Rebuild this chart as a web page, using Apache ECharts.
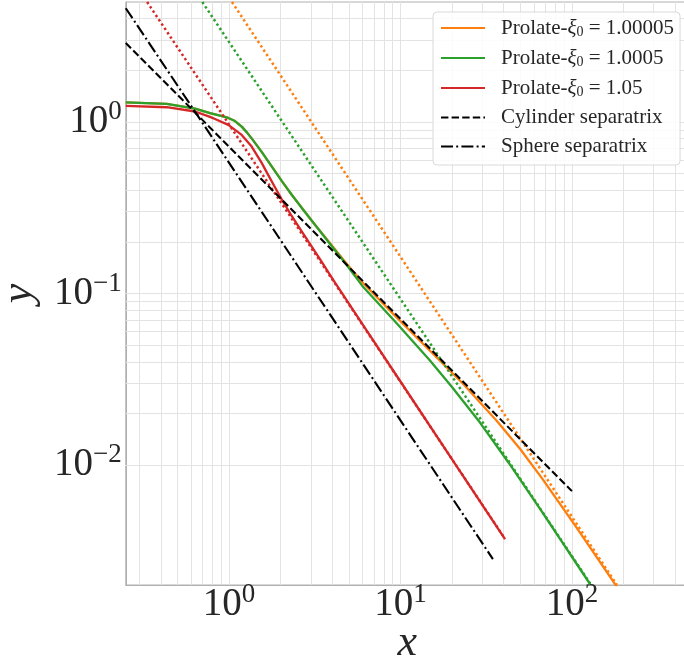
<!DOCTYPE html>
<html>
<head>
<meta charset="utf-8">
<script src="https://cdn.jsdelivr.net/npm/echarts@6/dist/echarts.min.js"></script>
<style>
  html, body { margin: 0; padding: 0; background: #ffffff; }
  #chart { width: 684px; height: 662px; }
</style>
</head>
<body>
<div id="chart"></div>
<script>
// ---- data (log-log plane) ----
const xiValues = ['1.00005', '1.0005', '1.05'];
const legendNames = [
  'Prolate-ξ0 = 1.00005',
  'Prolate-ξ0 = 1.0005',
  'Prolate-ξ0 = 1.05',
  'Cylinder separatrix',
  'Sphere separatrix'
];

const orangeX = [0.25, 0.433, 0.634, 0.775, 0.9, 0.991, 1.084, 1.186, 1.268, 1.356, 1.551, 1.774, 2.029, 2.321, 2.774, 3.173, 3.793, 4.857, 6.068, 9.502, 14.86, 23.24, 36.4, 49.76, 66.8, 104.5, 183];
const orangeY = [1.30, 1.275, 1.196, 1.124, 1.085, 1.055, 1.012, 0.939, 0.872, 0.802, 0.669, 0.551, 0.4534, 0.3765, 0.2987, 0.2515, 0.2025, 0.149, 0.1147, 0.0726, 0.0464, 0.0297, 0.01813, 0.01245, 0.00839, 0.00444, 0.00195];

const greenX = [0.25, 0.433, 0.634, 0.775, 0.9, 0.991, 1.084, 1.186, 1.268, 1.356, 1.551, 1.774, 2.029, 2.321, 2.774, 3.173, 3.793, 4.857, 6.068, 9.502, 14.86, 19.97, 29.08, 42.75, 66.8, 127.8];
const greenY = [1.30, 1.275, 1.196, 1.124, 1.085, 1.055, 1.012, 0.939, 0.872, 0.802, 0.669, 0.551, 0.4534, 0.3765, 0.2987, 0.2515, 0.2005, 0.1465, 0.1090, 0.0671, 0.0407, 0.02852, 0.01769, 0.01032, 0.00535, 0.00202];

const redX = [0.25, 0.433, 0.634, 0.775, 0.829, 0.991, 1.186, 1.356, 1.551, 1.695, 1.854, 2.029, 2.321, 2.654, 2.9, 3.4, 4.0, 6.0, 10, 20, 40.7];
const redY = [1.24, 1.218, 1.15, 1.07, 1.04, 0.961, 0.840, 0.718, 0.577, 0.490, 0.416, 0.354, 0.283, 0.2305, 0.2015, 0.158, 0.1225, 0.0663, 0.0307, 0.0108, 0.0037];

// large-x power-law asymptotes (dotted)
const orangeAsymX = [1.041, 8.12, 183];
const orangeAsymY = [5.0, 0.2244, 0.002];
const greenAsymX = [0.699, 5.555, 127.8];
const greenAsymY = [5.0, 0.2244, 0.00204];
const redAsymX = [0.333, 1, 40.7];
const redAsymY = [5.0, 0.968, 0.00372];

// separatrices
const cylinderX = [0.25, 0.648, 100];
const cylinderY = [2.88, 1.11, 0.00705];
const sphereX = [0.25, 0.648, 34.6];
const sphereY = [4.6, 1.11, 0.00283];

// axis ranges and grid-line positions (mantissas 1..9 per decade)
const xRange = [0.25, 480];
const yRange = [0.002, 5];
const mantissas = [1, 2, 3, 4, 5, 6, 7, 8, 9];
const xDecades = [-1, 0, 1, 2];
const yDecades = [-3, -2, -1, 0];

// ---- helpers ----
const pairs = (xs, ys) => xs.map((x, i) => [x, ys[i]]);
function gridValues(decades, range) {
  const out = [];
  decades.forEach(d => mantissas.forEach(m => {
    const v = +(m * Math.pow(10, d)).toPrecision(6);
    if (v > range[0] * 1.0001 && v < range[1] * 0.9999) out.push(v);
  }));
  return out;
}
function powerLabel(v) {
  const lg = Math.log10(v);
  const e = Math.round(lg);
  if (Math.abs(lg - e) > 1e-6) return '';
  return '{b|10}{s|' + (e < 0 ? '\u2212' + (-e) : String(e)) + '}';
}

const C_ORANGE = '#ff7f0e', C_GREEN = '#2ca02c', C_RED = '#d62728', C_BLACK = '#000000';
const SERIF = '"Liberation Serif", "DejaVu Serif", serif';
const GRID_COLOR = '#e3e3e3';
const TEXT_COLOR = '#262626';
const DOTS = [2.4, 2.8];

const tickRich = {
  b: { fontFamily: SERIF, fontSize: 39, color: TEXT_COLOR, lineHeight: 40 },
  s: { fontFamily: SERIF, fontSize: 27, color: TEXT_COLOR, lineHeight: 20, padding: [0, 0, 20, 0] }
};

function curve(name, xs, ys, color, width, type, z) {
  return {
    name, type: 'line', data: pairs(xs, ys), symbol: 'none', showSymbol: false,
    smooth: false, clip: true, z,
    lineStyle: { color, width, type, cap: 'butt', join: 'round' },
    itemStyle: { color },
    emphasis: { disabled: true }
  };
}

// light background grid, one line per mantissa of every decade
const gridSeries = {
  name: 'grid-lines', type: 'line', data: [], z: 1, silent: true,
  markLine: {
    z: 1, silent: true, animation: false, symbol: ['none', 'none'],
    label: { show: false },
    lineStyle: { color: GRID_COLOR, width: 1, type: 'solid' },
    emphasis: { disabled: true },
    data: gridValues(xDecades, xRange).map(v => ({ xAxis: v }))
      .concat(gridValues(yDecades, yRange).map(v => ({ yAxis: v })))
  }
};

const chart = echarts.init(document.getElementById('chart'), null, { renderer: 'canvas' });
chart.setOption({
  animation: false,
  backgroundColor: '#ffffff',
  grid: {
    left: 125.75, top: 2, width: 563, height: 583,
    containLabel: false, outerBoundsMode: 'none',
    show: true, borderColor: '#b0b0b0', borderWidth: 1, backgroundColor: 'transparent'
  },
  legend: {
    data: legendNames,
    orient: 'vertical',
    left: 433, top: 12, z: 10,
    padding: [5, 6, 8, 7],
    itemWidth: 44, itemHeight: 14, itemGap: 8,
    itemStyle: { opacity: 0 },
    backgroundColor: 'rgba(255,255,255,0.85)',
    borderColor: '#d9d9d9', borderWidth: 1, borderRadius: 4,
    selectedMode: false,
    formatter: name => name.replace('ξ0', '{i|ξ}{s|0}'),
    textStyle: {
      fontFamily: SERIF, fontSize: 21, color: TEXT_COLOR, lineHeight: 20,
      padding: [0, 0, 0, 11],
      rich: {
        i: { fontFamily: SERIF, fontSize: 21, fontStyle: 'italic', color: TEXT_COLOR, lineHeight: 20 },
        s: { fontFamily: SERIF, fontSize: 14, color: TEXT_COLOR, lineHeight: 12, padding: [8, 0, 0, 0] }
      }
    }
  },
  xAxis: {
    type: 'log', logBase: 10, min: xRange[0], max: xRange[1],
    name: 'x', nameLocation: 'middle', nameGap: 36, nameMoveOverlap: false,
    nameTextStyle: { fontFamily: SERIF, fontSize: 44, fontStyle: 'italic', color: TEXT_COLOR },
    axisLine: { show: true, lineStyle: { color: '#b0b0b0', width: 1 } },
    axisTick: { show: false },
    splitLine: { show: false },
    axisLabel: {
      margin: 0, formatter: powerLabel, showMinLabel: false, showMaxLabel: false,
      rich: tickRich
    }
  },
  yAxis: {
    type: 'log', logBase: 10, min: yRange[0], max: yRange[1],
    name: 'y', nameLocation: 'middle', nameGap: 84, nameMoveOverlap: false,
    nameTextStyle: { fontFamily: SERIF, fontSize: 44, fontStyle: 'italic', color: TEXT_COLOR },
    axisLine: { show: true, lineStyle: { color: '#b0b0b0', width: 1 } },
    axisTick: { show: false },
    splitLine: { show: false },
    axisLabel: {
      margin: 4, formatter: powerLabel, showMinLabel: false, showMaxLabel: false,
      rich: tickRich
    }
  },
  series: [
    gridSeries,
    curve(legendNames[0], orangeX, orangeY, C_ORANGE, 2.3, 'solid', 3),
    curve('Prolate-ξ0 = ' + xiValues[0] + ' asymptote', orangeAsymX, orangeAsymY, C_ORANGE, 2.5, DOTS, 3),
    curve(legendNames[1], greenX, greenY, C_GREEN, 2.3, 'solid', 4),
    curve('Prolate-ξ0 = ' + xiValues[1] + ' asymptote', greenAsymX, greenAsymY, C_GREEN, 2.5, DOTS, 4),
    curve(legendNames[2], redX, redY, C_RED, 2.3, 'solid', 5),
    curve('Prolate-ξ0 = ' + xiValues[2] + ' asymptote', redAsymX, redAsymY, C_RED, 2.5, DOTS, 5),
    curve(legendNames[3], cylinderX, cylinderY, C_BLACK, 2.1, [7.4, 3.2], 6),
    curve(legendNames[4], sphereX, sphereY, C_BLACK, 2.1, [12, 3.2, 2, 3.2], 6)
  ]
});
</script>
</body>
</html>
